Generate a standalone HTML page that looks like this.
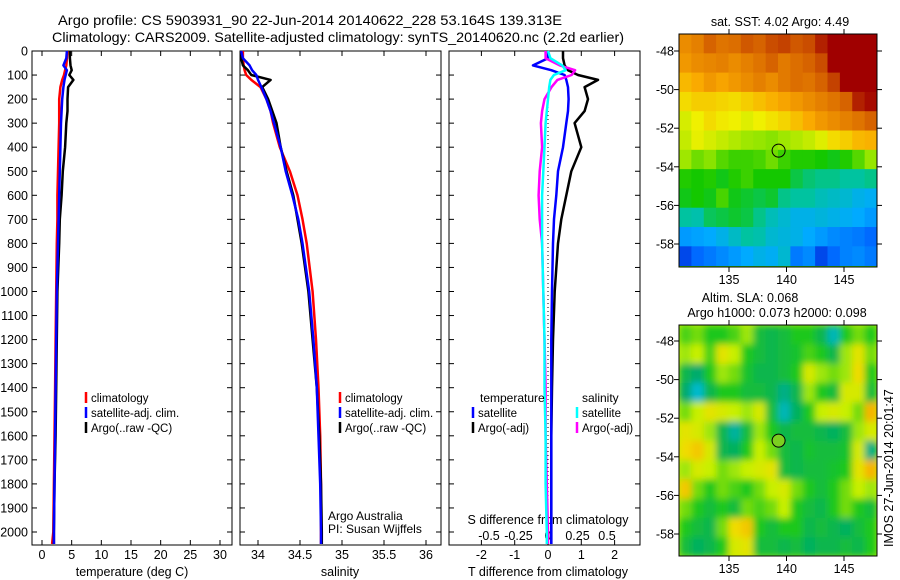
<!DOCTYPE html>
<html><head><meta charset="utf-8"><style>
body{margin:0;background:#fff}
svg{display:block;font-family:"Liberation Sans",sans-serif;font-size:12.5px}
</style></head><body>
<svg id="s" width="900" height="580" viewBox="0 0 900 580">
<defs>
<clipPath id="c1"><rect x="679" y="34" width="198" height="233"/></clipPath>
<clipPath id="c2"><rect x="679" y="325" width="198" height="231"/></clipPath>
<filter id="blur" x="-5%" y="-5%" width="110%" height="110%"><feGaussianBlur stdDeviation="3.5"/></filter>
</defs>
<text x="310" y="25" text-anchor="middle" font-size="14" textLength="504" lengthAdjust="spacingAndGlyphs">Argo profile: CS 5903931_90 22-Jun-2014 20140622_228 53.164S 139.313E</text>
<text x="338" y="42" text-anchor="middle" font-size="14" textLength="572" lengthAdjust="spacingAndGlyphs">Climatology: CARS2009. Satellite-adjusted climatology: synTS_20140620.nc (2.2d earlier)</text>
<g id="g"></g>
</svg>
<script>
const depths=[0,30,60,80,100,120,150,200,250,300,400,500,600,700,800,1000,1200,1400,1600,1800,2000,2050];
const tempClim=[4.3,4.2,4.1,3.9,3.7,3.4,3.1,2.9,2.9,2.9,2.8,2.7,2.6,2.6,2.5,2.4,2.3,2.2,2.1,2.0,1.9,1.7];
const tempSat=[4.2,4.1,3.6,4.2,4.0,3.8,3.6,3.4,3.3,3.2,3.1,3.0,2.9,2.8,2.7,2.5,2.4,2.3,2.2,2.1,2.0,2.0];
const tempArgo=[4.7,4.7,4.8,5.0,4.6,5.3,4.4,4.3,4.3,4.1,3.9,3.5,3.3,3.0,2.9,2.6,2.5,2.4,2.3,2.1,2.0,2.0];
const salClim=[33.82,33.82,33.83,33.84,33.86,33.92,34.03,34.10,34.15,34.18,34.26,34.38,34.47,34.53,34.58,34.65,34.69,34.72,34.74,34.75,34.75,34.75];
const salSat=[33.80,33.82,33.90,33.93,33.98,34.00,34.04,34.10,34.15,34.19,34.27,34.33,34.41,34.48,34.53,34.61,34.66,34.70,34.72,34.74,34.75,34.75];
const salArgo=[33.80,33.80,33.82,33.88,33.92,34.15,34.05,34.12,34.17,34.22,34.27,34.34,34.42,34.47,34.52,34.60,34.65,34.70,34.73,34.75,34.76,34.76];
const tDiffSat=[0,0,-0.45,0.1,0.5,0.55,0.6,0.62,0.6,0.55,0.45,0.3,0.25,0.18,0.15,0.12,0.1,0.1,0.1,0.1,0.1,0.1];
const tDiffArgo=[0.45,0.45,0.5,0.6,0.9,1.5,1.1,1.2,1.1,0.8,1.0,0.7,0.55,0.4,0.3,0.2,0.15,0.12,0.1,0.1,0.1,0.1];
const sDiffSat=[0,0.02,0.12,0.15,0.05,0.02,0.01,0,-0.01,-0.02,-0.03,-0.04,-0.05,-0.05,-0.05,-0.04,-0.03,-0.03,-0.02,-0.02,-0.01,-0.01];
const sDiffArgo=[-0.02,-0.02,0.1,0.23,0.2,0.08,0.03,-0.03,-0.05,-0.06,-0.05,-0.07,-0.08,-0.07,-0.05,-0.04,-0.03,-0.02,-0.02,-0.01,0,0];
const depthTicks=[0,100,200,300,400,500,600,700,800,900,1000,1100,1200,1300,1400,1500,1600,1700,1800,1900,2000];
const tempTicks=[0,5,10,15,20,25,30];
const salTicks=[34,34.5,35,35.5,36];
const tdTicks=[-2,-1,0,1,2];
const sdTicks=[-0.5,-0.25,0,0.25,0.5];
const lonTicks=[135,140,145];
const latTicks=[-48,-50,-52,-54,-56,-58];
const sstRows=[
[8,8.2,8.6,8.4,8.5,8.7,8.6,8.8,8.9,8.7,8.8,9.2,9.6,9.8,9.8,9.8],
[7.8,8,8.1,8.2,8,8.2,8.4,8.6,8.3,8.5,8.6,8.8,9.5,9.8,9.8,9.8],
[7.3,7.5,7.8,7.6,7.8,8,8.2,8,8.3,8.5,8.4,8.6,8.9,9.6,9.8,9.8],
[6.8,7,7,6.9,6.8,7,7.2,7.4,7.6,7.8,8,8.2,8.4,8.6,9.2,9.4],
[6.2,6.5,6.8,6.6,6.5,6.3,6.5,6.7,6.9,7.2,7.5,7.8,8,8.2,8.4,8.6],
[6,6.4,6.2,6,5.8,5.6,5.5,5.4,5.6,5.8,6,6.3,6.8,7,7.3,7.4],
[5.6,5.2,5.4,5.0,4.8,4.8,4.9,5.2,4.8,4.6,4.6,4.5,4.4,4.6,5,5.5],
[4.6,4.5,4.6,4.4,4.6,4.8,4.5,4.5,4.5,4.2,4.0,3.9,3.9,3.8,3.8,3.9],
[4.4,4.5,4.4,4.9,4.4,4.3,4.2,4.3,3.9,3.8,3.8,3.6,3.5,3.4,3.2,3.1],
[3.8,3.7,4.1,4.2,4.3,4.2,3.9,3.6,3.4,3.2,3.2,3.3,3.2,3.1,3,2.8],
[2.8,2.9,3,3.2,3.5,3.8,3.7,3.4,3.3,3.2,3,2.8,2.6,2.5,2.4,2.2],
[1.8,2.2,2.4,2.6,2.8,3,3.2,3.1,3.4,2.4,2.6,1.8,2.2,2.5,2.6,2.4]];
const slaRows=[
[0.1,0.2,0,0,0.1,0.3,-0.2,-0.3,-0.2,0,0,-0.3,-0.8,0,0.2,0],
[0.3,0.4,0.1,0.6,0.4,0,-0.2,-0.3,-0.2,-0.1,0.1,0,-0.3,0.3,0.6,0.2],
[-0.3,-0.5,0,0.3,0.2,-0.1,-0.3,-0.3,-0.2,0,0.5,0.3,0.2,0.3,0.7,0],
[-0.5,-0.9,-0.3,0,0,-0.2,-0.2,-0.3,-0.6,-0.3,0.3,0,-0.2,0.5,0.5,-0.2],
[0.2,0.4,0.6,0.5,0.4,0.3,0.5,-0.2,-0.8,-0.4,0,0.4,0.5,0.4,0.2,0.9],
[0.6,0.5,0.3,-0.3,-0.7,-0.2,0.3,0,-0.3,-0.2,-0.2,-0.3,-0.4,-0.2,0.3,0.5],
[0.7,0.8,0.5,-0.3,-0.4,0,0.4,0.2,-0.2,-0.3,-0.1,-0.2,-0.2,-0.1,0.5,-0.6],
[0.3,0.5,0.4,0.2,0.3,0.4,0.5,0.6,-0.2,-0.3,-0.2,-0.2,-0.1,0,0.6,0.9],
[0.8,0.2,0,0.2,0.1,0,0.2,0.4,0.5,0.2,0,-0.2,0,0.2,0.4,0.3],
[0.2,0,-0.2,0,-0.2,0.2,0.1,0.2,0.4,0,-0.2,-0.3,0,0.2,0,-0.2],
[0,-0.2,-0.3,0.2,0.7,0.8,0,-0.2,0,0,-0.3,-0.2,-0.3,-0.4,-0.2,0],
[-0.2,-0.4,-0.3,0,0.5,0.6,-0.2,-0.2,-0.3,-0.2,-0.4,-0.3,-0.3,-0.2,-0.3,0]];
const argoLon=139.313, argoLat=-53.164;

const NS='http://www.w3.org/2000/svg';
const G=document.getElementById('g');
function mk(tag,attrs,parent){const e=document.createElementNS(NS,tag);for(const k in attrs)e.setAttribute(k,attrs[k]);(parent||G).appendChild(e);return e;}
function txt(x,y,s,anchor,parent){const t=mk('text',{x:x,y:y,'text-anchor':anchor||'start'},parent);t.textContent=s;return t;}
const Y0=51,Y1=545;
const yD=d=>Y0+d*0.2405;
const panels=[
 {x0:32,x1:232,sx:v=>42+v*5.933},
 {x0:240,x1:441,sx:v=>258+(v-34)*84},
 {x0:449,x1:640,sx:v=>548+v*33.3}];
const sdx=v=>548+v*118;

panels.forEach((p,i)=>{
 const r=mk('rect',{x:p.x0,y:Y0,width:p.x1-p.x0,height:Y1-Y0,fill:'none',stroke:'#000','stroke-width':1});
 
 
 depthTicks.forEach(d=>{
  const y=yD(d);
  mk('line',{x1:p.x0,x2:p.x0+5,y1:y,y2:y,stroke:'#000'});
  mk('line',{x1:p.x1,x2:p.x1-5,y1:y,y2:y,stroke:'#000'});
  if(i===0){const t=txt(28,y+4.5,String(d),'end');
   
   }
 });
});
function xTicks(p,ticks,fmt,ly,topTicks){
 ticks.forEach(v=>{const x=p.sx(v);
  if(topTicks){mk('line',{x1:x,x2:x,y1:Y0,y2:Y0+5,stroke:'#000'});mk('line',{x1:x,x2:x,y1:Y1,y2:Y1-5,stroke:'#000'});}
  const t=txt(x,ly,fmt(v),'middle');
  
  });
}
xTicks(panels[0],tempTicks,String,559,true);
xTicks(panels[1],salTicks,String,559,true);
xTicks(panels[2],tdTicks,String,559,true);
xTicks({sx:sdx},sdTicks,String,540,false);
const z=mk('line',{x1:548,x2:548,y1:Y0+40,y2:Y1,stroke:'#000','stroke-dasharray':'1,3'});


[['temperature (deg C)',132],['salinity',340],['T difference from climatology',548]].forEach(a=>{
 const t=txt(a[1],576,a[0],'middle');
 
 });
const st=txt(548,524,'S difference from climatology','middle');



function line(vals,sx,color,name){
 const pts=vals.map((v,k)=>sx(v).toFixed(1)+','+yD(depths[k]).toFixed(1)).join(' ');
 const l=mk('polyline',{points:pts,fill:'none',stroke:color,'stroke-width':2.5,'stroke-linejoin':'round'});
 
 
}
line(tempClim,panels[0].sx,'#f00','temp-climatology-line');
line(tempArgo,panels[0].sx,'#000','temp-argo-line');
line(tempSat,panels[0].sx,'#00f','temp-satellite-line');
line(salClim,panels[1].sx,'#f00','sal-climatology-line');
line(salArgo,panels[1].sx,'#000','sal-argo-line');
line(salSat,panels[1].sx,'#00f','sal-satellite-line');
line(tDiffArgo,panels[2].sx,'#000','tdiff-argo-line');
line(tDiffSat,panels[2].sx,'#00f','tdiff-satellite-line');
line(sDiffArgo,sdx,'#f0f','sdiff-argo-line');
line(sDiffSat,sdx,'#0ff','sdiff-satellite-line');

function legend(rows){
 rows.forEach(r=>{
  const m=mk('line',{x1:r[0],x2:r[0],y1:r[1]-10,y2:r[1]+1,stroke:r[2],'stroke-width':2.5});
  
  
  const t=txt(r[0]+5,r[1],r[3]);
  t.setAttribute('font-size','11.5');
  
  });
}
legend([[86,402,'#f00','climatology'],[86,417,'#00f','satellite-adj. clim.'],[86,432,'#000','Argo(..raw -QC)']]);
legend([[340,402,'#f00','climatology'],[340,417,'#00f','satellite-adj. clim.'],[340,432,'#000','Argo(..raw -QC)']]);
legend([[473,417,'#00f','satellite'],[473,432,'#000','Argo(-adj)'],[577,417,'#0ff','satellite'],[577,432,'#f0f','Argo(-adj)']]);
[['temperature',480,402],['salinity',582,402],['Argo Australia',328,520],['PI: Susan Wijffels',328,533]].forEach(a=>{
 const t=txt(a[1],a[2],a[0]);
 t.setAttribute('font-size','12');
 
 });

const lonX=lo=>729+(lo-135)*11.5;
const MX0=679,MX1=877,lon0=(MX0-729)/11.5+135,lonW=(MX1-MX0)/11.5/16;
function col(stops,v){
 if(v<=stops[0][0])return 'rgb('+stops[0][1].join(',')+')';
 for(let k=1;k<stops.length;k++){if(v<=stops[k][0]){const a=stops[k-1],b=stops[k],t=(v-a[0])/(b[0]-a[0]);
  return 'rgb('+a[1].map((c,j)=>Math.round(c+(b[1][j]-c)*t)).join(',')+')';}}
 return 'rgb('+stops[stops.length-1][1].join(',')+')';
}
const sstStops=[[1,[0,0,150]],[2,[0,90,255]],[3,[0,170,255]],[3.8,[0,195,160]],[4.5,[20,200,0]],[5.5,[150,230,0]],[6.5,[240,240,0]],[7.5,[250,170,0]],[8.5,[220,110,0]],[9.5,[160,0,0]]];
const slaStops=[[-1,[0,190,230]],[-0.5,[0,170,110]],[0,[30,200,30]],[0.4,[200,240,0]],[0.7,[240,220,0]],[1,[250,160,0]]];
function map(rows,stops,ylat,lat0,name,clip,blur){
 const outer=mk('g',{'clip-path':'url(#'+clip+')'});
 mk('rect',{x:MX0,y:ylat(lat0),width:MX1-MX0,height:240,fill:col(stops,rows[6][6])},outer);
 const mg=mk('g',blur?{filter:'url(#blur)'}:{},outer);
 
 
 rows.forEach((row,r)=>row.forEach((v,c)=>{
  const xa=lonX(lon0+c*lonW), xb=lonX(lon0+(c+1)*lonW);
  const ya=ylat(lat0-r), yb=ylat(lat0-r-1);
  const cell=mk('rect',{x:xa.toFixed(2),y:ya.toFixed(2),width:(xb-xa+0.4).toFixed(2),height:(yb-ya+0.4).toFixed(2),fill:col(stops,v)},mg);
  
  
 }));
}
const ylat1=la=>51+(-48-la)*19.3;
const ylat2=la=>341+(-48-la)*19.3;
map(sstRows,sstStops,ylat1,-47.12,'sst-map','c1',false);
map(slaRows,slaStops,ylat2,-47.17,'sla-map','c2',true);
[[34,267,ylat1,284],[325,556,ylat2,573]].forEach((m,i)=>{
 const f=mk('rect',{x:MX0,y:m[0],width:MX1-MX0,height:m[1]-m[0],fill:'none',stroke:'#000'});
 
 
 lonTicks.forEach(lo=>{const x=lonX(lo);
  mk('line',{x1:x,x2:x,y1:m[0]-5,y2:m[0],stroke:'#000'});
  mk('line',{x1:x,x2:x,y1:m[1],y2:m[1]+5,stroke:'#000'});
  const t=txt(x,m[3],String(lo),'middle');
  
  });
 latTicks.forEach(la=>{const y=m[2](la);
  mk('line',{x1:MX0-5,x2:MX0,y1:y,y2:y,stroke:'#000'});
  mk('line',{x1:MX1,x2:MX1+5,y1:y,y2:y,stroke:'#000'});
  const t=txt(674,y+4.5,String(la),'end');
  
  });
 const c=mk('circle',{cx:lonX(argoLon),cy:m[2](argoLat),r:6.5,fill:i?'#7ccf20':'none',stroke:'#000','stroke-width':1});
 
 
});
[['sat. SST: 4.02 Argo: 4.49',780,26],['Altim. SLA: 0.068',750,302],['Argo h1000: 0.073 h2000: 0.098',777,317]].forEach(a=>{
 const t=txt(a[1],a[2],a[0],'middle');
 
 });
const im=txt(0,0,'IMOS 27-Jun-2014 20:01:47');
im.setAttribute('transform','translate(893,547) rotate(-90)');


</script>
</body></html>
